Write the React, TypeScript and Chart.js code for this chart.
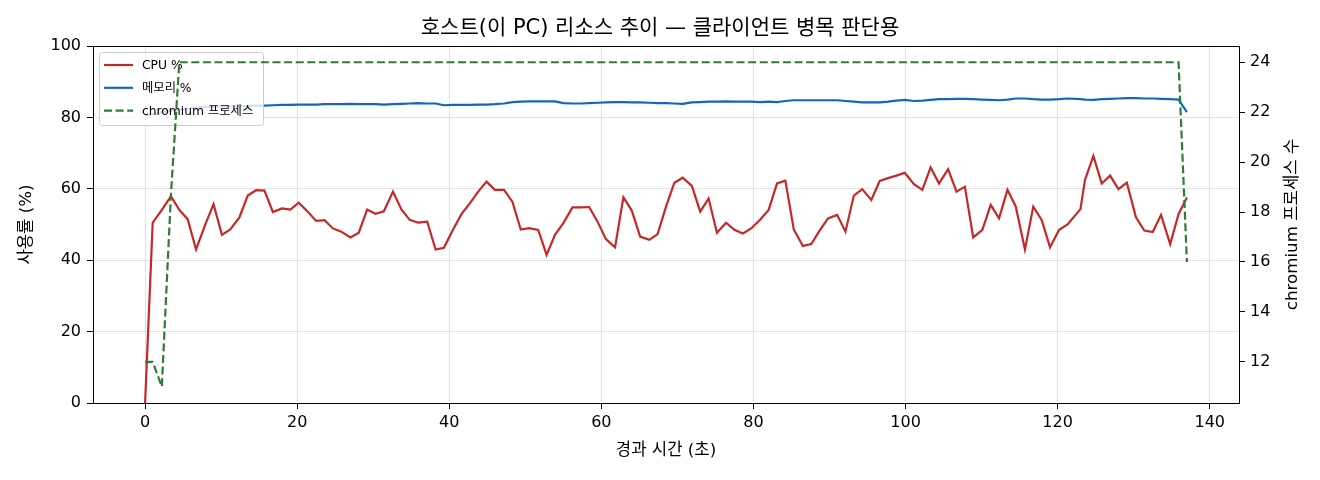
import { useEffect, useRef } from 'react';
import { Chart, registerables } from 'chart.js';
import type { Plugin } from 'chart.js';

// Chart.js 전체 등록
Chart.register(...registerables);

// 라틴 문자는 DejaVu, 한글은 Noto CJK 로 대체
const FONT = '"DejaVu Sans", "Noto Sans CJK KR", sans-serif';

// 경과 시간 (초)
const elapsed = [
  0, 1.0, 2.2, 3.4, 4.5, 5.6, 6.7, 7.9, 9.0, 10.1,
  11.2, 12.4, 13.5, 14.6, 15.7, 16.8, 18.0, 19.1, 20.2, 21.3,
  22.5, 23.6, 24.7, 25.8, 27.0, 28.1, 29.2, 30.3, 31.4, 32.6,
  33.7, 34.8, 35.9, 37.1, 38.2, 39.3, 40.4, 41.6, 42.7, 43.8,
  44.9, 46.0, 47.2, 48.3, 49.4, 50.5, 51.7, 52.8, 53.9, 55.0,
  56.2, 57.3, 58.4, 59.5, 60.6, 61.8, 62.9, 64.0, 65.1, 66.3,
  67.4, 68.5, 69.6, 70.7, 71.9, 73.0, 74.1, 75.2, 76.4, 77.5,
  78.6, 79.7, 80.9, 82.0, 83.1, 84.2, 85.3, 86.5, 87.6, 88.7,
  89.8, 91.0, 92.1, 93.2, 94.3, 95.5, 96.6, 97.7, 98.8, 99.9,
  101.1, 102.2, 103.3, 104.4, 105.6, 106.7, 107.8, 108.9, 110.1, 111.2,
  112.3, 113.4, 114.5, 115.7, 116.8, 117.9, 119.0, 120.2, 121.3, 123.0,
  123.6, 124.7, 125.8, 126.9, 128.0, 129.1, 130.3, 131.4, 132.5, 133.6,
  134.8, 135.9, 137.0,
];

// CPU 사용률 (%)
const cpuPct = [
  0, 50.5, 54.1, 57.9, 54.1, 51.5, 43.0, 49.9, 55.7, 47.1,
  48.6, 52.0, 58.1, 59.6, 59.5, 53.5, 54.5, 54.2, 56.1, 53.8,
  51.0, 51.2, 48.9, 48.0, 46.4, 47.7, 54.2, 53.0, 53.7, 59.2,
  54.2, 51.3, 50.5, 50.8, 43.0, 43.5, 48.2, 52.9, 55.9, 59.2,
  62.0, 59.7, 59.7, 56.4, 48.6, 49.0, 48.5, 41.5, 47.1, 50.4,
  54.8, 54.8, 54.9, 50.8, 45.9, 43.6, 57.6, 53.9, 46.6, 45.7,
  47.3, 55.0, 61.7, 63.1, 60.8, 53.6, 57.3, 47.7, 50.5, 48.5,
  47.5, 48.9, 51.4, 54.1, 61.5, 62.3, 48.6, 44.0, 44.5, 48.3,
  51.7, 52.7, 48.0, 58.1, 59.9, 56.9, 62.2, 63.0, 63.7, 64.5,
  61.3, 59.7, 66.0, 61.5, 65.5, 59.2, 60.6, 46.4, 48.5, 55.5,
  51.7, 59.7, 55.0, 43.0, 55.0, 51.3, 43.6, 48.5, 50.0, 54.3,
  62.5, 69.2, 61.5, 63.7, 59.9, 61.7, 52.0, 48.3, 47.9, 52.7,
  44.5, 52.9, 57.6,
];

// 메모리 사용률 (%)
const memPct = [
  80.6, 81.0, 81.4, 81.8, 82.2, 82.5, 82.7, 82.9, 83.0, 83.1,
  83.1, 83.2, 83.2, 83.3, 83.3, 83.4, 83.5, 83.5, 83.6, 83.6,
  83.6, 83.7, 83.7, 83.7, 83.8, 83.7, 83.7, 83.7, 83.6, 83.7,
  83.8, 83.9, 84.0, 83.9, 83.9, 83.4, 83.5, 83.5, 83.5, 83.6,
  83.6, 83.7, 83.9, 84.3, 84.4, 84.5, 84.5, 84.5, 84.5, 84.0,
  83.9, 83.9, 84.0, 84.1, 84.2, 84.3, 84.3, 84.2, 84.2, 84.1,
  84.0, 84.0, 83.9, 83.8, 84.2, 84.3, 84.4, 84.4, 84.5, 84.4,
  84.4, 84.4, 84.3, 84.4, 84.3, 84.6, 84.8, 84.8, 84.8, 84.8,
  84.8, 84.8, 84.6, 84.4, 84.2, 84.2, 84.2, 84.4, 84.7, 84.9,
  84.6, 84.7, 84.9, 85.1, 85.1, 85.2, 85.2, 85.1, 85.0, 84.9,
  84.8, 85.0, 85.3, 85.3, 85.1, 85.0, 85.0, 85.1, 85.3, 85.1,
  85.0, 84.9, 85.1, 85.2, 85.3, 85.4, 85.4, 85.3, 85.3, 85.2,
  85.1, 85.0, 81.5,
];

// chromium 프로세스 수
const procCount = [
  12, 12, 11, 18.7, 24, 24, 24, 24, 24, 24,
  24, 24, 24, 24, 24, 24, 24, 24, 24, 24,
  24, 24, 24, 24, 24, 24, 24, 24, 24, 24,
  24, 24, 24, 24, 24, 24, 24, 24, 24, 24,
  24, 24, 24, 24, 24, 24, 24, 24, 24, 24,
  24, 24, 24, 24, 24, 24, 24, 24, 24, 24,
  24, 24, 24, 24, 24, 24, 24, 24, 24, 24,
  24, 24, 24, 24, 24, 24, 24, 24, 24, 24,
  24, 24, 24, 24, 24, 24, 24, 24, 24, 24,
  24, 24, 24, 24, 24, 24, 24, 24, 24, 24,
  24, 24, 24, 24, 24, 24, 24, 24, 24, 24,
  24, 24, 24, 24, 24, 24, 24, 24, 24, 24,
  24, 24, 16,
];

// 눈금
const xTicks = [0, 20, 40, 60, 80, 100, 120, 140];
const pctTicks = [0, 20, 40, 60, 80, 100];
const procTicks = [12, 14, 16, 18, 20, 22, 24];

const seriesNames = ['CPU %', '메모리 %', 'chromium 프로세스'];
const seriesColors = ['#c62828', '#1565c0', '#2e7d32'];
const DASH = [8, 3.6];

// 범례(축 안쪽), 테두리, 오른쪽 축 제목
const decorPlugin: Plugin<'line'> = {
  id: 'decor',
  beforeDatasetDraw(chart, args) {
    if (args.index !== 2) return; // 초록 선 아래에 범례
    const { ctx, chartArea: a } = chart;
    const lx = a.left + 6;
    const ly = a.top + 6;
    const w = 164;
    const h = 73;
    ctx.save();
    ctx.beginPath();
    ctx.roundRect(lx + 0.5, ly + 0.5, w, h, 3);
    ctx.fillStyle = 'rgba(255,255,255,0.8)';
    ctx.fill();
    ctx.strokeStyle = '#cccccc';
    ctx.lineWidth = 1;
    ctx.stroke();
    ctx.font = `12.3px ${FONT}`;
    ctx.textBaseline = 'middle';
    ctx.textAlign = 'left';
    seriesNames.forEach((name, k) => {
      const y = ly + 13 + k * 22.8;
      ctx.beginPath();
      ctx.setLineDash(k === 2 ? DASH : []);
      ctx.moveTo(lx + 5, y);
      ctx.lineTo(lx + 34, y);
      ctx.strokeStyle = seriesColors[k];
      ctx.lineWidth = 2.2;
      ctx.stroke();
      ctx.fillStyle = '#000';
      ctx.fillText(name, lx + 43, y + 1);
    });
    ctx.restore();
  },
  afterDatasetsDraw(chart) {
    const { ctx, chartArea: a } = chart;
    ctx.save();
    ctx.strokeStyle = '#000';
    ctx.lineWidth = 1;
    ctx.setLineDash([]);
    ctx.strokeRect(Math.round(a.left) + 0.5, Math.round(a.top) + 0.5,
      Math.round(a.right - a.left), Math.round(a.bottom - a.top));
    // 오른쪽 y축 제목 (아래→위)
    ctx.translate(1293, (a.top + a.bottom) / 2);
    ctx.rotate(-Math.PI / 2);
    ctx.font = `16.7px ${FONT}`;
    ctx.fillStyle = '#000';
    ctx.textAlign = 'center';
    ctx.textBaseline = 'middle';
    ctx.fillText('chromium 프로세스 수', 0, 0);
    ctx.restore();
  },
};

const tickFont = { family: FONT, size: 16 };
const gridColor = 'rgba(176,176,176,0.35)';

export default function App() {
  const canvasRef = useRef<HTMLCanvasElement>(null);

  useEffect(() => {
    document.body.style.margin = '0';
    if (!canvasRef.current) return;
    const chart = new Chart(canvasRef.current, {
      type: 'line',
      data: {
        datasets: [
          {
            label: seriesNames[0],
            data: elapsed.map((t, i) => ({ x: t, y: cpuPct[i] })),
            borderColor: seriesColors[0],
            borderWidth: 2.2,
            pointRadius: 0,
            yAxisID: 'y',
            order: 3,
          },
          {
            label: seriesNames[1],
            data: elapsed.map((t, i) => ({ x: t, y: memPct[i] })),
            borderColor: seriesColors[1],
            borderWidth: 2.2,
            pointRadius: 0,
            yAxisID: 'y',
            order: 2,
          },
          {
            label: seriesNames[2],
            data: elapsed.map((t, i) => ({ x: t, y: procCount[i] })),
            borderColor: seriesColors[2],
            borderWidth: 2.2,
            borderDash: DASH,
            pointRadius: 0,
            yAxisID: 'y2',
            order: 1,
          },
        ],
      },
      options: {
        responsive: false,
        animation: false,
        devicePixelRatio: 1,
        events: [],
        layout: { padding: 0 },
        plugins: {
          legend: { display: false },
          tooltip: { enabled: false },
          title: {
            display: true,
            text: '호스트(이 PC) 리소스 추이 — 클라이언트 병목 판단용',
            color: '#000',
            font: { family: FONT, size: 21, weight: 'normal', lineHeight: 1.2 },
            padding: { top: 16.4, bottom: 4.4 },
          },
        },
        scales: {
          x: {
            type: 'linear',
            position: 'bottom',
            min: -6.85,
            max: 143.85,
            afterBuildTicks: (s) => { s.ticks = xTicks.map((v) => ({ value: v })); },
            afterFit: (s) => { s.height = 77; },
            ticks: { color: '#000', font: tickFont, padding: 4, maxRotation: 0 },
            grid: { color: gridColor, tickColor: '#000', tickLength: 6 },
            border: { display: false },
            title: {
              display: true, text: '경과 시간 (초)', color: '#000',
              font: { family: FONT, size: 16.7, lineHeight: 1.2 },
              padding: { top: 0, bottom: 19 },
            },
          },
          y: {
            position: 'left',
            min: 0,
            max: 100,
            afterBuildTicks: (s) => { s.ticks = pctTicks.map((v) => ({ value: v })); },
            afterFit: (s) => { s.width = 93; },
            ticks: { color: '#000', font: tickFont, padding: 6 },
            grid: { color: gridColor, tickColor: '#000', tickLength: 6 },
            border: { display: false },
            title: {
              display: true, text: '사용률 (%)', color: '#000',
              font: { family: FONT, size: 16.7, lineHeight: 1.2 },
              padding: { top: 17, bottom: 0 },
            },
          },
          y2: {
            position: 'right',
            min: 10.35,
            max: 24.65,
            afterBuildTicks: (s) => { s.ticks = procTicks.map((v) => ({ value: v })); },
            afterFit: (s) => { s.width = 81; },
            ticks: { color: '#000', font: tickFont, padding: 5 },
            grid: { drawOnChartArea: false, color: gridColor, tickColor: '#000', tickLength: 6 },
            border: { display: false },
          },
        },
      },
      plugins: [decorPlugin],
    });
    return () => chart.destroy();
  }, []);

  return (
    <div style={{ width: 1320, height: 480, background: '#fff' }}>
      <canvas ref={canvasRef} width={1320} height={480} />
    </div>
  );
}
